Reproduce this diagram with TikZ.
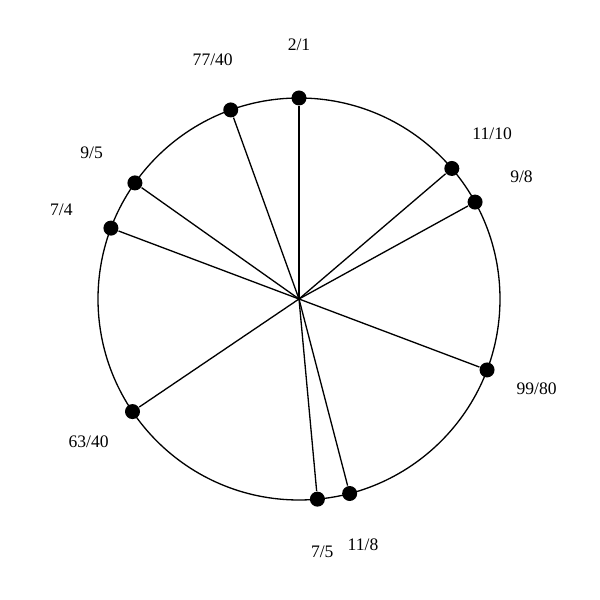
\documentclass[tikz,border=0pt]{standalone}
\usepackage{fontspec}
\setmainfont{Liberation Serif}
\begin{document}
\begin{tikzpicture}
\def\radius{4.02cm}
\def\lradius{5.08cm}
\tikzset{dot/.style={circle,fill,inner sep=0pt,minimum size=0.3cm},
every path/.style={line width=0.75pt},ratio/.style={font=\fontsize{10}{12}\selectfont}}
\useasboundingbox (0,0) rectangle (12,12);
\coordinate (O) at (5.98,6.02);
\draw (O) circle (\radius);
% ratio / angle
\foreach \n/\r/\a in {a/2\slash1/90,b/11\slash10/40.50,c/9\slash8/28.83,
  d/99\slash80/-20.67,e/11\slash8/-75.40,f/7\slash5/-84.75,
  g/63\slash40/-145.93,h/7\slash4/-200.65,i/9\slash5/-215.28,j/77\slash40/-250.15}{
  \node[dot] (p\n) at ([shift={(\a:\radius)}]O) {};
  \node[ratio] (l\n) at ([shift={(\a:\lradius)}]O) {\r};
  \draw (O) -- (p\n);
}
\end{tikzpicture}
\end{document}
